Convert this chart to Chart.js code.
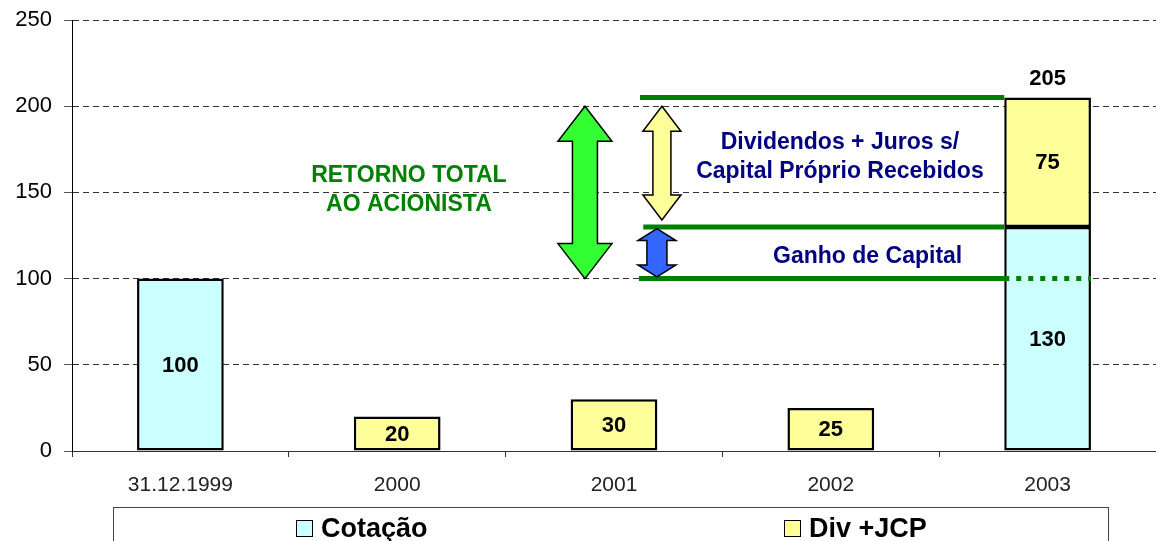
<!DOCTYPE html>
<html>
<head>
<meta charset="utf-8">
<script src="https://cdn.jsdelivr.net/npm/chart.js@4/dist/chart.umd.min.js"></script>
<style>
  html, body { margin: 0; padding: 0; background: #fff; }
  #wrap { width: 1156px; height: 541px; position: relative; }
</style>
</head>
<body>
<div id="wrap"><canvas id="retorno"></canvas></div>
<script>
// valores
var categories = ['31.12.1999', '2000', '2001', '2002', '2003'];
var cotacao = [100, null, null, null, 130];
var divJcp = [null, 20, 30, 25, 75];
var yMin = 0, yMax = 250, yStep = 50;

// anotacoes (em unidades de dados: indice de categoria / valor)
var ganhoBase = 100, ganhoTopo = 130, retornoTopo = 205;

var FONT = "'Liberation Sans', Arial, sans-serif";
var GREEN = '#008000';
var NAVY = '#000080';

function doubleArrow(ctx, cx, yTop, yBot, headW, shaftW, headLen, fill) {
  ctx.save();
  ctx.beginPath();
  ctx.moveTo(cx, yTop);
  ctx.lineTo(cx + headW / 2, yTop + headLen);
  ctx.lineTo(cx + shaftW / 2, yTop + headLen);
  ctx.lineTo(cx + shaftW / 2, yBot - headLen);
  ctx.lineTo(cx + headW / 2, yBot - headLen);
  ctx.lineTo(cx, yBot);
  ctx.lineTo(cx - headW / 2, yBot - headLen);
  ctx.lineTo(cx - shaftW / 2, yBot - headLen);
  ctx.lineTo(cx - shaftW / 2, yTop + headLen);
  ctx.lineTo(cx - headW / 2, yTop + headLen);
  ctx.closePath();
  ctx.fillStyle = fill;
  ctx.fill();
  ctx.lineWidth = 1.5;
  ctx.strokeStyle = '#000';
  ctx.stroke();
  ctx.restore();
}

//Anotacoes: linhas verdes, setas e textos
var annotationPlugin = {
  id: 'annotations',
  afterDatasetsDraw: function(chart) {
    var ctx = chart.ctx;
    var x = chart.scales.x, y = chart.scales.y;
    var last = chart.getDatasetMeta(0).data[4];
    var barLeft = last.x - last.width / 2;
    var barRight = last.x + last.width / 2;

    ctx.save();
    ctx.strokeStyle = GREEN;
    ctx.lineWidth = 5;
    [[retornoTopo, 2.12], [ganhoTopo, 2.135], [ganhoBase, 2.115]].forEach(function(l) {
      ctx.beginPath();
      ctx.moveTo(x.getPixelForValue(l[1]), y.getPixelForValue(l[0]));
      ctx.lineTo(barLeft, y.getPixelForValue(l[0]));
      ctx.stroke();
    });
    // linha pontilhada sobre a barra 2003
    ctx.setLineDash([5, 7]);
    ctx.beginPath();
    ctx.moveTo(barLeft, y.getPixelForValue(ganhoBase));
    ctx.lineTo(barRight, y.getPixelForValue(ganhoBase));
    ctx.stroke();
    ctx.restore();

    doubleArrow(ctx, x.getPixelForValue(1.866), y.getPixelForValue(200), y.getPixelForValue(ganhoBase), 54, 25, 35, '#33FF33');
    doubleArrow(ctx, x.getPixelForValue(2.221), y.getPixelForValue(200), y.getPixelForValue(134), 38, 18, 25, '#FFFF99');
    doubleArrow(ctx, x.getPixelForValue(2.198), y.getPixelForValue(129), y.getPixelForValue(101), 38, 20, 12, '#3366FF');

    ctx.save();
    ctx.textAlign = 'center';
    ctx.textBaseline = 'middle';
    ctx.font = 'bold 23px ' + FONT;
    ctx.fillStyle = GREEN;
    ctx.fillText('RETORNO TOTAL', x.getPixelForValue(1.054), y.getPixelForValue(160));
    ctx.fillText('AO ACIONISTA', x.getPixelForValue(1.054), y.getPixelForValue(143));
    ctx.fillStyle = NAVY;
    ctx.fillText('Dividendos + Juros s/', x.getPixelForValue(3.042), y.getPixelForValue(178.6));
    ctx.fillText('Capital Próprio Recebidos', x.getPixelForValue(3.042), y.getPixelForValue(162));
    ctx.fillText('Ganho de Capital', x.getPixelForValue(3.17), y.getPixelForValue(112.5));
    ctx.restore();
  }
};

//Rotulos de valor nas barras e total acima
var labelPlugin = {
  id: 'barLabels',
  afterDatasetsDraw: function(chart) {
    var ctx = chart.ctx;
    ctx.save();
    ctx.font = 'bold 22px ' + FONT;
    ctx.fillStyle = '#000';
    ctx.textAlign = 'center';
    ctx.textBaseline = 'middle';
    chart.data.datasets.forEach(function(ds, di) {
      chart.getDatasetMeta(di).data.forEach(function(bar, i) {
        if (ds.data[i] == null) return;
        ctx.fillText(String(ds.data[i]), bar.x, (bar.y + bar.base) / 2 + 1);
      });
    });
    categories.forEach(function(c, i) {
      if (cotacao[i] == null || divJcp[i] == null) return;
      var top = chart.getDatasetMeta(1).data[i];
      ctx.fillText(String(cotacao[i] + divJcp[i]), top.x, top.y - 19);
    });
    ctx.restore();
  }
};

//Legenda com moldura na parte de baixo
var legendPlugin = {
  id: 'boxLegend',
  afterDraw: function(chart) {
    var ctx = chart.ctx;
    var left = 113, right = 1108, top = 507;
    ctx.save();
    ctx.strokeStyle = '#444';
    ctx.lineWidth = 1;
    ctx.strokeRect(left + 0.5, top + 0.5, right - left, 60);
    ctx.font = 'bold 27px ' + FONT;
    ctx.textBaseline = 'alphabetic';
    var half = (right - left) / 2;
    chart.data.datasets.forEach(function(ds, di) {
      var tw = ctx.measureText(ds.label).width;
      var itemW = 17 + 8 + tw;
      var cx = left + half * di + half / 2 + (di === 1 ? -4 : 0);
      var sx = Math.round(cx - itemW / 2);
      ctx.fillStyle = ds.backgroundColor;
      ctx.fillRect(sx, 520, 17, 17);
      ctx.strokeStyle = '#000';
      ctx.strokeRect(sx + 0.5, 520.5, 16, 16);
      ctx.fillStyle = '#000';
      ctx.fillText(ds.label, sx + 25, 537);
    });
    ctx.restore();
  }
};

var ctx = document.getElementById('retorno').getContext('2d');
var retornoChart = new Chart(ctx, {
  type: 'bar',
  data: {
    labels: categories,
    datasets: [
      { label: 'Cotação', data: cotacao, backgroundColor: '#CCFFFF', borderColor: '#000', borderWidth: 2.5, borderSkipped: false },
      { label: 'Div +JCP', data: divJcp, backgroundColor: '#FFFF99', borderColor: '#000', borderWidth: 2.5, borderSkipped: false }
    ]
  },
  options: {
    responsive: true,
    maintainAspectRatio: false,
    animation: false,
    layout: { padding: { top: 20, left: 0, right: 0, bottom: 0 } },
    categoryPercentage: 1,
    barPercentage: 0.4,
    plugins: { legend: { display: false }, tooltip: { enabled: false } },
    scales: {
      x: {
        stacked: true,
        afterFit: function(s) { s.height = 90; s.paddingLeft = 0; s.paddingRight = 0; },
        grid: { drawOnChartArea: false, offset: true, tickLength: 6, color: '#333' },
        border: { color: '#333', width: 1 },
        ticks: { color: '#222', padding: 16, font: { family: FONT, size: 21 } }
      },
      y: {
        stacked: true,
        min: yMin, max: yMax,
        afterFit: function(s) { s.width = 72; s.paddingTop = 0; s.paddingBottom = 0; },
        grid: { color: '#333', lineWidth: 1, tickLength: 8, tickColor: '#555', tickBorderDash: [] },
        border: { color: '#000', width: 1, dash: [6, 4] },
        ticks: { stepSize: yStep, color: '#000', padding: 12, font: { family: FONT, size: 22 } }
      }
    }
  },
  plugins: [annotationPlugin, labelPlugin, legendPlugin]
});
</script>
</body>
</html>
